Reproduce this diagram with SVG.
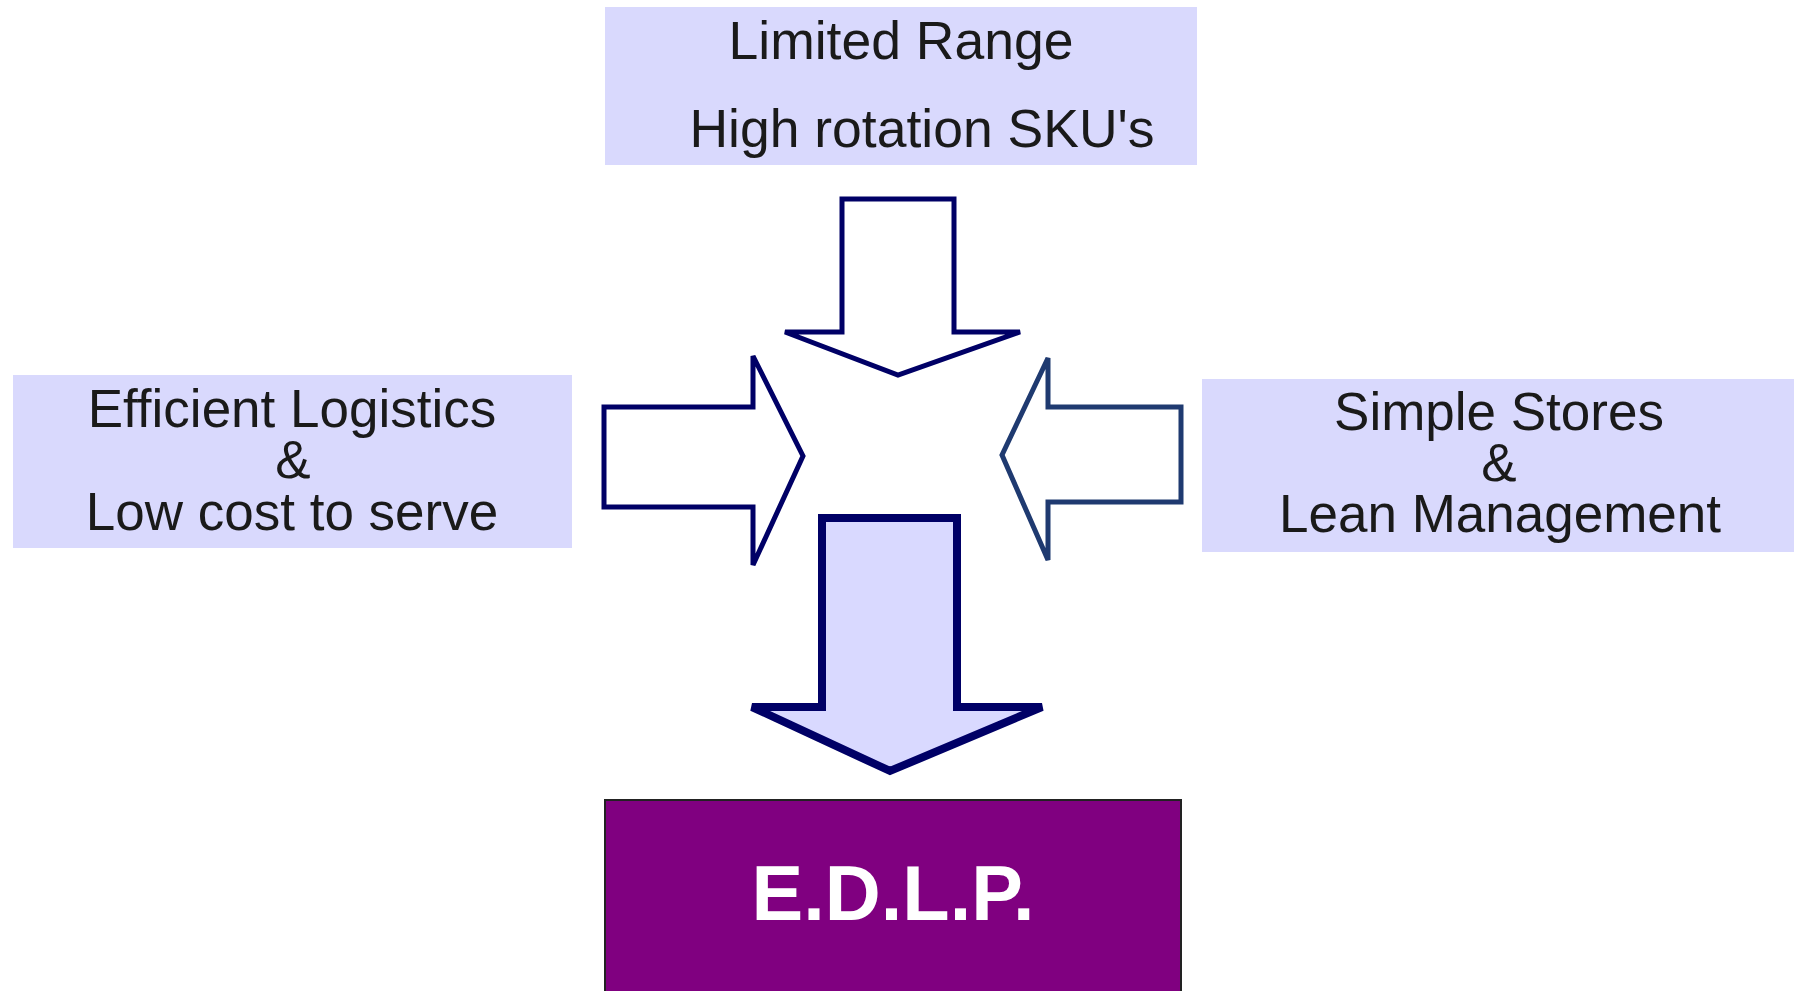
<svg xmlns="http://www.w3.org/2000/svg" width="1799" height="991" viewBox="0 0 1799 991">
<style>
.box{fill:#D9D9FD;}
.t{font-family:"Liberation Sans",Arial,sans-serif;fill:#1a1a1a;text-anchor:middle;}
.arr{fill:#ffffff;stroke:#000066;stroke-width:5;stroke-linejoin:miter;}
</style>
<rect width="1799" height="991" fill="#ffffff"/>
<g id="node-top">
<rect class="box" x="605" y="7" width="592" height="158"/>
<text class="t" x="901" y="59" font-size="53.5">Limited Range</text>
<text class="t" x="922" y="147" font-size="53.5">High rotation SKU's</text>
</g>
<g id="node-left">
<rect class="box" x="13" y="375" width="559" height="173"/>
<text class="t" x="292" y="427" font-size="53">Efficient Logistics</text>
<text class="t" x="293" y="478" font-size="53">&amp;</text>
<text class="t" x="292" y="530" font-size="53">Low cost to serve</text>
</g>
<g id="node-right">
<rect class="box" x="1202" y="379" width="592" height="173"/>
<text class="t" x="1499" y="430" font-size="53">Simple Stores</text>
<text class="t" x="1499" y="481" font-size="53">&amp;</text>
<text class="t" x="1500" y="532" font-size="53">Lean Management</text>
</g>
<g id="node-edlp">
<rect x="605" y="800" width="576" height="210" fill="#800080" stroke="#222222" stroke-width="2"/>
<text x="893" y="920" font-family="Liberation Sans,Arial,sans-serif" font-weight="bold" font-size="77.5" fill="#ffffff" text-anchor="middle">E.D.L.P.</text>
</g>
<g id="connectors">
<path class="arr" d="M785,332 L842,332 L842,199 L954,199 L954,332 L1020,332 L898,375 Z"/>
<path class="arr" d="M604,407 L753,407 L753,356 L803,456 L753,565 L753,507 L604,507 Z"/>
<path class="arr" style="stroke:#1F3A70" d="M1181,407 L1048,407 L1048,358 L1002,455 L1048,560 L1048,502 L1181,502 Z"/>
<path class="arr" style="fill:#D9D9FF;stroke-width:8" d="M752,707 L822,707 L822,518 L957,518 L957,707 L1042,707 L890,771 Z"/>
</g>
</svg>
